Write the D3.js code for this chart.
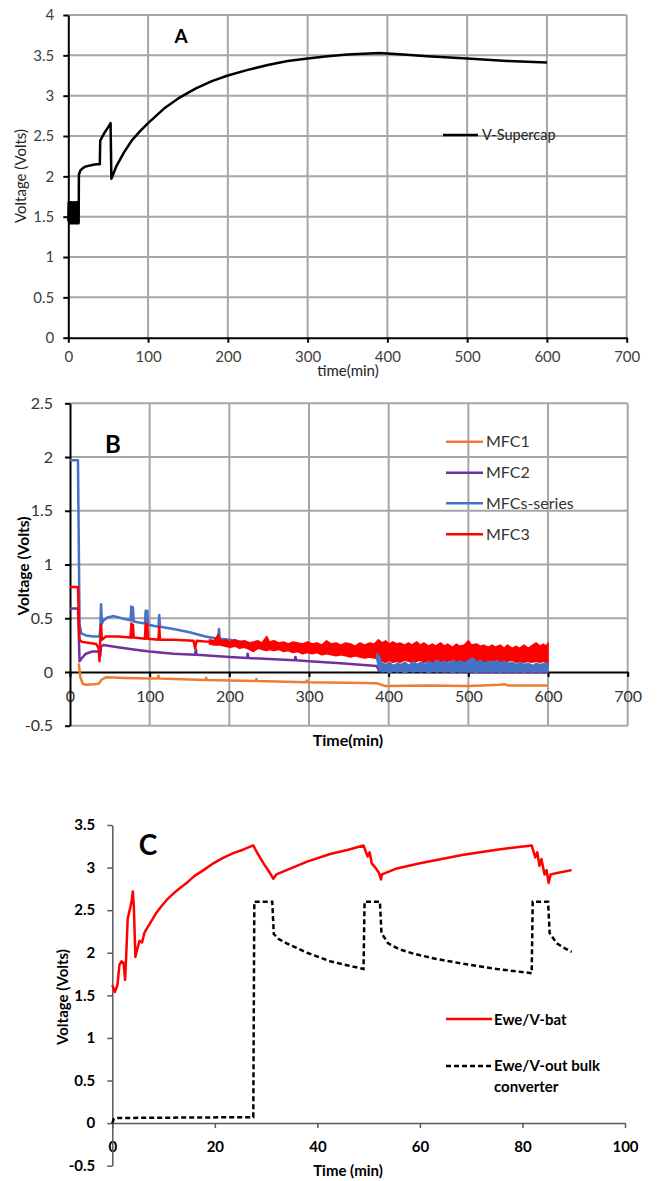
<!DOCTYPE html>
<html>
<head>
<meta charset="utf-8">
<script src="https://cdn.jsdelivr.net/npm/d3@7"></script>
</head>
<body style="margin:0">
<svg id="chart" width="657" height="1181" font-family="Lato, 'Open Sans', sans-serif"></svg>
<script>
// ---- panel A: supercapacitor voltage ----
const ticksA_x = [0, 100, 200, 300, 400, 500, 600, 700];
const ticksA_y = [0, 0.5, 1, 1.5, 2, 2.5, 3, 3.5, 4];
const supercap = [
  [0, 1.45], [0.5, 1.68], [1, 1.42], [1.5, 1.67], [2, 1.43], [2.5, 1.68], [3, 1.42], [3.5, 1.67],
  [4, 1.43], [4.5, 1.68], [5, 1.42], [5.5, 1.66], [6, 1.43], [6.5, 1.68], [7, 1.42], [7.5, 1.67],
  [8, 1.43], [8.5, 1.68], [9, 1.42], [9.5, 1.67], [10, 1.43], [10.5, 1.68], [11, 1.42], [11.5, 1.67],
  [12, 1.43], [12.5, 1.68], [13, 1.42], [13.3, 2.02], [15, 2.07], [18, 2.10], [21, 2.12], [25, 2.13],
  [30, 2.14], [35, 2.15], [39.5, 2.15], [40, 2.44], [42, 2.48], [46, 2.55], [50, 2.61], [53, 2.66],
  [54, 1.97], [60, 2.12], [70, 2.30], [80, 2.45], [90, 2.56], [100, 2.66], [120, 2.84], [140, 2.98],
  [160, 3.09], [180, 3.18], [200, 3.25], [225, 3.32], [250, 3.38], [275, 3.43], [300, 3.46],
  [325, 3.49], [350, 3.51], [370, 3.52], [390, 3.53], [420, 3.51], [450, 3.49], [500, 3.46],
  [550, 3.43], [600, 3.41]
];

// ---- panel B: individual MFC voltages ----
const ticksB_x = [0, 100, 200, 300, 400, 500, 600, 700];
const ticksB_y = [-0.5, 0, 0.5, 1, 1.5, 2, 2.5];
const seriesNamesB = ["MFC1", "MFC2", "MFCs-series", "MFC3"];
const mfc1 = [
  [11, 0.08], [13, -0.05], [16, -0.11], [20, -0.12], [30, -0.115], [36, -0.11], [40, -0.07],
  [45, -0.05], [70, -0.055], [100, -0.06], [110, -0.06], [111, -0.035], [112, -0.06], [150, -0.07],
  [170, -0.075], [171, -0.055], [172, -0.075], [200, -0.08], [233, -0.085], [234, -0.065],
  [235, -0.085], [296, -0.095], [297, -0.08], [298, -0.095], [350, -0.10], [385, -0.105],
  [395, -0.13], [450, -0.125], [500, -0.13], [540, -0.12], [545, -0.115], [550, -0.125], [600, -0.125]
];
const mfc2 = [
  [0, 0.59], [10, 0.59], [11, 0.35], [12, 0.10], [15, 0.13], [20, 0.17], [28, 0.19], [37, 0.19],
  [38, 0.15], [39, 0.24], [42, 0.25], [60, 0.23], [80, 0.21], [100, 0.19], [130, 0.17], [157, 0.16],
  [158, 0.21], [159, 0.16], [200, 0.14], [222, 0.13], [223, 0.17], [224, 0.13], [250, 0.12],
  [282, 0.11], [283, 0.14], [284, 0.11], [300, 0.10], [340, 0.08], [385, 0.055], [388, 0.01],
  [450, 0.01], [520, 0.0], [600, 0.0]
];
const mfcSeries = [
  [0, 1.97], [10, 1.97], [11, 1.2], [12, 0.45], [14, 0.36], [20, 0.34], [30, 0.33], [37, 0.33],
  [38, 0.40], [39, 0.63], [40, 0.45], [42, 0.48], [48, 0.51], [55, 0.52], [65, 0.50], [76, 0.48],
  [77, 0.61], [78, 0.48], [79, 0.60], [80, 0.47], [94, 0.45], [95, 0.57], [96, 0.45], [97, 0.57],
  [98, 0.44], [111, 0.42], [112, 0.53], [113, 0.42], [130, 0.40], [150, 0.37], [170, 0.33],
  [186, 0.31], [187, 0.40], [188, 0.31], [200, 0.30], [225, 0.27], [250, 0.26], [275, 0.24],
  [300, 0.21], [340, 0.18], [385, 0.145]
];
// noisy part of MFCs-series: [time, low, high]
const mfcSeriesNoise = [
  [385, 0.12, 0.17], [388, 0.02, 0.15], [392, 0.00, 0.08], [397, 0.01, 0.07], [401, -0.01, 0.09],
  [406, 0.01, 0.06], [411, 0.00, 0.08], [415, 0.01, 0.07], [421, -0.01, 0.09], [425, 0.01, 0.06],
  [431, 0.00, 0.10], [436, 0.01, 0.07], [440, 0.00, 0.09], [446, 0.01, 0.07], [450, -0.01, 0.10],
  [455, 0.01, 0.08], [461, 0.00, 0.11], [465, 0.01, 0.08], [470, 0.00, 0.10], [476, 0.01, 0.08],
  [480, -0.01, 0.11], [485, 0.01, 0.09], [491, 0.00, 0.10], [495, 0.01, 0.08], [500, 0.00, 0.11],
  [506, 0.01, 0.13], [510, -0.01, 0.09], [515, 0.01, 0.11], [521, 0.00, 0.08], [525, 0.01, 0.10],
  [530, 0.00, 0.09], [536, 0.01, 0.11], [540, -0.01, 0.08], [545, 0.01, 0.10], [551, 0.00, 0.08],
  [555, 0.01, 0.09], [560, 0.00, 0.07], [566, 0.01, 0.09], [570, -0.01, 0.07], [575, 0.01, 0.08],
  [581, 0.00, 0.06], [585, 0.01, 0.08], [590, 0.00, 0.07], [596, 0.01, 0.08], [600, 0.00, 0.08]
];
const mfc3 = [
  [0, 0.79], [10, 0.79], [11, 0.5], [12, 0.30], [15, 0.28], [25, 0.27], [33, 0.26], [36, 0.22],
  [37, 0.10], [38, 0.30], [39, 0.44], [40, 0.30], [45, 0.33], [60, 0.33], [76, 0.32], [77, 0.45],
  [78, 0.32], [79, 0.44], [80, 0.32], [94, 0.31], [95, 0.45], [96, 0.31], [97, 0.44], [98, 0.31],
  [111, 0.30], [112, 0.42], [113, 0.30], [130, 0.30], [155, 0.29], [157, 0.22], [159, 0.29], [175, 0.28]
];
// noisy part of MFC3: [time, low, high]
const mfc3Noise = [
  [175, 0.26, 0.30], [181, 0.25, 0.29], [186, 0.25, 0.35], [189, 0.25, 0.29], [195, 0.24, 0.30],
  [201, 0.23, 0.28], [207, 0.24, 0.30], [213, 0.22, 0.28], [219, 0.23, 0.29], [225, 0.21, 0.27],
  [230, 0.19, 0.28], [236, 0.22, 0.29], [241, 0.21, 0.27], [247, 0.20, 0.33], [250, 0.21, 0.28],
  [256, 0.20, 0.29], [262, 0.21, 0.27], [268, 0.19, 0.28], [274, 0.20, 0.26], [280, 0.18, 0.28],
  [286, 0.19, 0.27], [292, 0.17, 0.26], [298, 0.18, 0.28], [304, 0.17, 0.26], [310, 0.18, 0.27],
  [316, 0.16, 0.25], [322, 0.17, 0.29], [328, 0.16, 0.26], [334, 0.15, 0.27], [340, 0.16, 0.25],
  [346, 0.15, 0.27], [352, 0.14, 0.26], [358, 0.15, 0.24], [364, 0.14, 0.27], [370, 0.13, 0.25],
  [376, 0.14, 0.27], [382, 0.13, 0.26], [387, 0.12, 0.30], [392, 0.10, 0.27], [396, 0.09, 0.29],
  [401, 0.11, 0.26], [405, 0.09, 0.28], [411, 0.10, 0.26], [414, 0.09, 0.27], [420, 0.11, 0.25],
  [425, 0.10, 0.27], [429, 0.09, 0.25], [435, 0.10, 0.28], [440, 0.11, 0.25], [444, 0.09, 0.27],
  [450, 0.10, 0.24], [455, 0.09, 0.26], [459, 0.11, 0.24], [465, 0.10, 0.27], [470, 0.09, 0.24],
  [474, 0.10, 0.26], [480, 0.11, 0.23], [485, 0.09, 0.26], [489, 0.10, 0.24], [495, 0.09, 0.25],
  [500, 0.10, 0.29], [504, 0.11, 0.25], [510, 0.09, 0.26], [515, 0.10, 0.24], [519, 0.09, 0.25],
  [525, 0.10, 0.23], [530, 0.11, 0.25], [534, 0.09, 0.23], [540, 0.10, 0.25], [545, 0.09, 0.22],
  [549, 0.10, 0.25], [555, 0.11, 0.22], [560, 0.09, 0.24], [564, 0.10, 0.22], [570, 0.09, 0.25],
  [575, 0.10, 0.22], [579, 0.09, 0.24], [585, 0.10, 0.27], [590, 0.09, 0.24], [594, 0.10, 0.26],
  [598, 0.09, 0.24], [600, 0.05, 0.27]
];

// ---- panel C: battery and converter output ----
const ticksC_x = [0, 20, 40, 60, 80, 100];
const ticksC_y = [-0.5, 0, 0.5, 1, 1.5, 2, 2.5, 3, 3.5];
const vBat = [
  [0, 1.62], [0.5, 1.54], [1, 1.62], [1.4, 1.86], [1.8, 1.90], [2.2, 1.88], [2.5, 1.68], [2.7, 1.95],
  [3.0, 2.40], [3.5, 2.53], [3.8, 2.62], [4.0, 2.72], [4.2, 2.55], [4.5, 1.95], [4.9, 2.05],
  [5.3, 2.14], [5.8, 2.12], [6.3, 2.24], [6.7, 2.28], [7.5, 2.36], [8.5, 2.46], [9.5, 2.54],
  [10.6, 2.62], [12, 2.70], [13.2, 2.76], [14.5, 2.82], [16, 2.90], [17.8, 2.97], [19.7, 3.05],
  [21.5, 3.11], [23.6, 3.17], [25.5, 3.21], [27.5, 3.26], [28.2, 3.18], [29.5, 3.05], [30.5, 2.96],
  [31.4, 2.87], [32, 2.92], [34, 2.97], [38, 3.07], [42.5, 3.16], [46, 3.21], [49, 3.26],
  [49.8, 3.13], [50.2, 3.18], [50.6, 3.05], [51.3, 3.00], [52, 2.94], [52.4, 2.86], [52.6, 2.92],
  [55.5, 2.99], [60, 3.05], [68.5, 3.15], [75, 3.21], [81.8, 3.26], [82.5, 3.12], [82.9, 3.18],
  [83.3, 3.02], [83.7, 3.10], [84.3, 2.92], [84.7, 2.97], [85.1, 2.82], [85.5, 2.92], [87, 2.94],
  [89.6, 2.97]
];
const vOut = [
  [0, 0.0], [0.3, 0.05], [1, 0.06], [27.5, 0.07], [27.7, 2.6], [31.2, 2.6], [31.5, 2.22], [32.5, 2.16],
  [34, 2.11], [38, 2.0], [42.5, 1.9], [46, 1.85], [49, 1.81], [49.2, 2.6], [52.2, 2.6], [52.5, 2.23],
  [53.8, 2.11], [56, 2.04], [58.7, 1.99], [63, 1.93], [68.5, 1.87], [75, 1.81], [81.8, 1.76],
  [82, 2.6], [85, 2.6], [85.3, 2.23], [86.7, 2.11], [88, 2.06], [89.6, 2.01]
];

const colorsB = { "MFC1": "#ED7D31", "MFC2": "#7030A0", "MFCs-series": "#4472C4", "MFC3": "#FF0000" };
const gridColor = "#a6a6a6";

const svg = d3.select("#chart");

// scales
const xA = d3.scaleLinear().domain([0, 700]).range([68.3, 626.7]);
const yA = d3.scaleLinear().domain([0, 4]).range([337.7, 15]);
const xB = d3.scaleLinear().domain([0, 700]).range([70, 627.7]);
const yB = d3.scaleLinear().domain([-0.5, 2.5]).range([725.7, 403.3]);
const xC = d3.scaleLinear().domain([0, 100]).range([112.3, 625]);
const yC = d3.scaleLinear().domain([-0.5, 3.5]).range([1165.7, 825]);

// gridlines for A and B: one path per panel, built from the scales
function gridPath(xScale, yScale, vx, hy) {
  const [yb, yt] = yScale.range();
  const [xl, xr] = xScale.range();
  const p = d3.path();
  vx.forEach(v => { p.moveTo(xScale(v), yb); p.lineTo(xScale(v), yt); });
  hy.forEach(v => { p.moveTo(xl, yScale(v)); p.lineTo(xr, yScale(v)); });
  return p.toString();
}
svg.append("path")
  .attr("d", gridPath(xA, yA, ticksA_x.slice(1), ticksA_y.slice(1)))
  .attr("fill", "none").attr("stroke", gridColor).attr("stroke-width", 2);
svg.append("path")
  .attr("d", gridPath(xB, yB, ticksB_x.slice(1), ticksB_y.filter(d => d !== 0)))
  .attr("fill", "none").attr("stroke", gridColor).attr("stroke-width", 2);

function styleAxis(g, color, width, size, weight, textColor) {
  g.select(".domain").attr("stroke", color).attr("stroke-width", width);
  g.selectAll(".tick line").attr("stroke", color).attr("stroke-width", width);
  g.selectAll(".tick text")
    .attr("fill", textColor)
    .attr("font-family", "Lato, 'Open Sans', sans-serif")
    .attr("font-size", size)
    .attr("font-weight", weight);
}

const fmt = d => String(d);

// ================= A =================
{
  const x = xA, y = yA;
  const g = svg.append("g");

  const ax = g.append("g").attr("transform", `translate(0,${y(0)})`)
    .call(d3.axisBottom(x).tickValues(ticksA_x).tickFormat(fmt).tickSize(5).tickSizeOuter(0).tickPadding(9));
  styleAxis(ax, "#000", 2, 15, "normal", "#404040");
  const ay = g.append("g").attr("transform", `translate(${x(0)},0)`)
    .call(d3.axisLeft(y).tickValues(ticksA_y).tickFormat(fmt).tickSize(5).tickSizeOuter(0).tickPadding(9));
  styleAxis(ay, "#000", 2, 15, "normal", "#404040");

  g.append("path").datum(supercap)
    .attr("d", d3.line().x(d => x(d[0])).y(d => y(d[1])))
    .attr("fill", "none").attr("stroke", "#000").attr("stroke-width", 2.5)
    .attr("stroke-linejoin", "round");

  g.append("text").attr("x", 181).attr("y", 43).attr("text-anchor", "middle")
    .attr("font-size", 19).attr("font-weight", "bold").text("A");
  g.append("text").attr("x", 348).attr("y", 376).attr("text-anchor", "middle")
    .attr("font-size", 15).attr("fill", "#222").text("time(min)");
  g.append("text").attr("transform", "translate(26,176) rotate(-90)").attr("text-anchor", "middle")
    .attr("font-size", 15).attr("fill", "#222").text("Voltage (Volts)");

  g.append("line").attr("x1", 443).attr("x2", 478).attr("y1", 135).attr("y2", 135)
    .attr("stroke", "#000").attr("stroke-width", 2.5);
  g.append("text").attr("x", 482).attr("y", 140).attr("font-size", 14.5).attr("fill", "#222").text("V-Supercap");
}

// ================= B =================
{
  const x = xB, y = yB;
  const g = svg.append("g");

  const ax = g.append("g").attr("transform", `translate(0,${y(0)})`)
    .call(d3.axisBottom(x).tickValues(ticksB_x).tickFormat(fmt).tickSize(5).tickSizeOuter(0).tickPadding(14));
  styleAxis(ax, "#000", 2, 16, "normal", "#333");
  const ay = g.append("g").attr("transform", `translate(${x(0)},0)`)
    .call(d3.axisLeft(y).tickValues(ticksB_y).tickFormat(fmt).tickSize(5).tickSizeOuter(0).tickPadding(12));
  styleAxis(ay, "#000", 2, 16, "normal", "#333");

  const line = d3.line().x(d => x(d[0])).y(d => y(d[1]));
  const band = d3.area().x(d => x(d[0])).y0(d => y(d[1])).y1(d => y(d[2]));

  const drawLine = (data, c) => g.append("path").datum(data).attr("d", line)
    .attr("fill", "none").attr("stroke", c).attr("stroke-width", 2.5).attr("stroke-linejoin", "round");
  const drawBand = (data, c) => g.append("path").datum(data).attr("d", band)
    .attr("fill", c).attr("stroke", c).attr("stroke-width", 1.5).attr("stroke-linejoin", "round");

  drawLine(mfc1, colorsB["MFC1"]);
  drawLine(mfc2, colorsB["MFC2"]);
  drawLine(mfcSeries, colorsB["MFCs-series"]);
  drawLine(mfc3, colorsB["MFC3"]);
  drawBand(mfc3Noise, colorsB["MFC3"]);
  drawBand(mfcSeriesNoise, colorsB["MFCs-series"]);

  g.append("text").attr("x", 113).attr("y", 453).attr("text-anchor", "middle")
    .attr("font-size", 24).attr("font-weight", "bold").text("B");
  g.append("text").attr("x", 348).attr("y", 746).attr("text-anchor", "middle")
    .attr("font-size", 16).attr("font-weight", "bold").text("Time(min)");
  g.append("text").attr("transform", "translate(29,566) rotate(-90)").attr("text-anchor", "middle")
    .attr("font-size", 15.5).attr("font-weight", "bold").text("Voltage (Volts)");

  const legY = [441.7, 472.7, 503.3, 534.3];
  seriesNamesB.forEach((name, i) => {
    g.append("line").attr("x1", 446).attr("x2", 483).attr("y1", legY[i]).attr("y2", legY[i])
      .attr("stroke", colorsB[name]).attr("stroke-width", 2.5);
    g.append("text").attr("x", 486).attr("y", legY[i] + 5.5).attr("font-size", 16)
      .attr("fill", "#333").text(name);
  });
}

// ================= C =================
{
  const x = xC, y = yC;
  const g = svg.append("g");

  const ax = g.append("g").attr("transform", `translate(0,${y(0)})`)
    .call(d3.axisBottom(x).tickValues(ticksC_x).tickFormat(fmt).tickSize(5).tickSizeOuter(0).tickPadding(13));
  styleAxis(ax, "#595959", 1.5, 15, "bold", "#000");
  const ay = g.append("g").attr("transform", `translate(${x(0)},0)`)
    .call(d3.axisLeft(y).tickValues(ticksC_y).tickFormat(fmt).tickSize(5).tickSizeOuter(0).tickPadding(12));
  styleAxis(ay, "#595959", 1.5, 15, "bold", "#000");

  const line = d3.line().x(d => x(d[0])).y(d => y(d[1]));
  g.append("path").datum(vOut).attr("d", line)
    .attr("fill", "none").attr("stroke", "#000").attr("stroke-width", 2.5).attr("stroke-dasharray", "5,3");
  g.append("path").datum(vBat).attr("d", line)
    .attr("fill", "none").attr("stroke", "#FF0000").attr("stroke-width", 2.5).attr("stroke-linejoin", "round");

  g.append("text").attr("x", 148).attr("y", 855).attr("text-anchor", "middle")
    .attr("font-size", 28).attr("font-weight", "bold").text("C");
  g.append("text").attr("x", 348).attr("y", 1176).attr("text-anchor", "middle")
    .attr("font-size", 15).attr("font-weight", "bold").text("Time (min)");
  g.append("text").attr("transform", "translate(68,997) rotate(-90)").attr("text-anchor", "middle")
    .attr("font-size", 15).attr("font-weight", "bold").text("Voltage (Volts)");

  g.append("line").attr("x1", 446).attr("x2", 492).attr("y1", 1019).attr("y2", 1019)
    .attr("stroke", "#FF0000").attr("stroke-width", 2.5);
  g.append("text").attr("x", 494).attr("y", 1024.5).attr("font-size", 15).attr("font-weight", "bold").text("Ewe/V-bat");
  g.append("line").attr("x1", 446).attr("x2", 492).attr("y1", 1066).attr("y2", 1066)
    .attr("stroke", "#000").attr("stroke-width", 2.5).attr("stroke-dasharray", "5,3");
  g.append("text").attr("x", 494).attr("y", 1071).attr("font-size", 15).attr("font-weight", "bold").text("Ewe/V-out bulk");
  g.append("text").attr("x", 494).attr("y", 1092).attr("font-size", 15).attr("font-weight", "bold").text("converter");
}
</script>
</body>
</html>
